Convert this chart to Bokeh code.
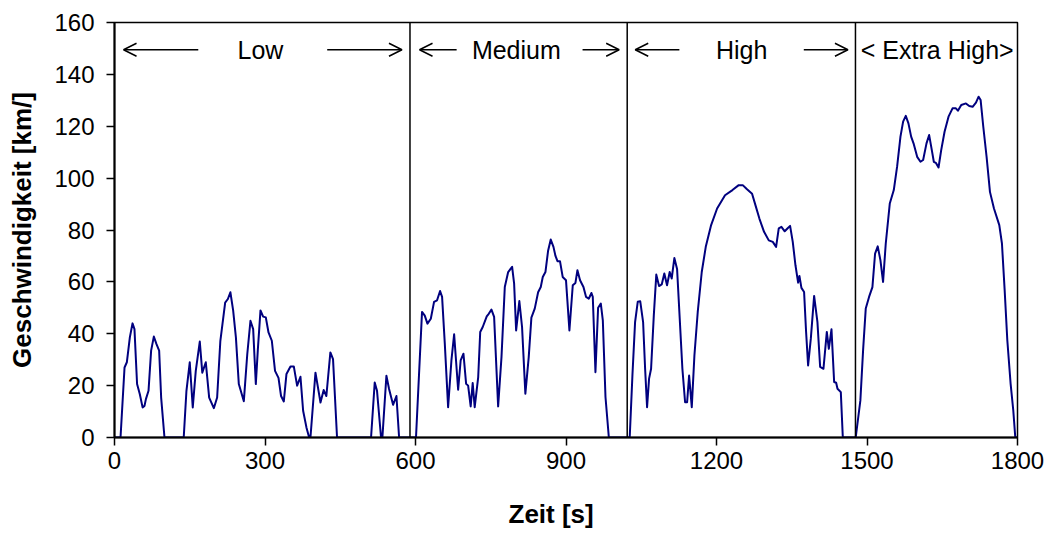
from bokeh.plotting import figure
from bokeh.models import Range1d, FixedTicker, Span, Arrow, OpenHead, Label, Title
from bokeh.embed import file_html
from bokeh.resources import INLINE

# ---- data ----
time_s = [
    0, 12, 20, 24.6, 30.6, 35.9, 39.8, 45, 50.5, 56, 59.8, 62.6, 67.8, 73, 78.4, 83.7, 89, 93, 99.6, 138,
    143.4, 150, 156, 162, 170, 175, 182, 188.7, 198, 204.6, 211, 220.6, 226, 231, 236.5, 242, 247.8, 257.8,
    264.6, 271, 276.4, 281.7, 285.6, 291, 296.3, 301.6, 307, 313.6, 320, 326.9, 332, 337.5, 342.8, 350.8,
    357.4, 364, 370.7, 376, 382.6, 388, 390.6, 400.6, 410.6, 417, 422.3, 430.3, 435.6, 443.6, 511.4, 518.7,
    523.3, 531.3, 534, 542, 547.3, 555.3, 562, 567.3, 601,
    613, 618.5, 623.8, 630.5, 637, 643, 649, 653, 658.4, 665, 671.6, 677, 685, 690, 695.6, 700.9, 704.9,
    710, 714, 718, 725, 729, 734, 742, 746, 751.4, 756.7, 764.7, 771.4, 778, 784.7, 792.6, 796.6, 800.6,
    807, 812.4, 819, 825.7, 831, 837.7, 844.4, 849.7, 853.7, 859, 864.3, 869.6, 875, 879, 883, 888, 893.4,
    900, 906.8, 913.5, 918.8, 922.8, 928, 934.8, 940, 945.4, 950.7, 953.4, 958.7, 964, 969.4, 973.4, 978.7,
    985.4, 1027,
    1032.4, 1037.7, 1043, 1048, 1053.7, 1057.7, 1061.6, 1065.6, 1069.6, 1075, 1080, 1085.5, 1090.8, 1096,
    1101.4, 1106.7, 1110.7, 1116, 1121.4, 1126.7, 1132, 1137.4, 1141.4, 1145.4, 1150.7, 1156, 1162.6,
    1170.6, 1178.6, 1189.3, 1201.2, 1217, 1231.8, 1244.3, 1252.3, 1260.3, 1270.9, 1277.6, 1285.5, 1294.8,
    1304.2, 1312.2, 1318.8, 1324.1, 1329.4, 1336, 1341.4, 1346.7, 1352, 1357.4, 1362.7, 1365.3, 1369.3,
    1374.6, 1378.6, 1382.6, 1388, 1394.6, 1401.2, 1406.6, 1413.2, 1419.9, 1423.9, 1429.2, 1434.5, 1438.5,
    1441.2, 1447.8, 1451.8, 1477.5,
    1486.8, 1492.2, 1497.5, 1504.1, 1510.8, 1516.1, 1521.4, 1526.8, 1532, 1537.4, 1545.4, 1553.4, 1560,
    1566.7, 1572, 1577.3, 1582.6, 1588, 1593.3, 1600, 1606.6, 1611.9, 1618.6, 1623.9, 1629.2, 1633.2,
    1637.2, 1642.6, 1647.9, 1654.6, 1662.5, 1670.5, 1677.2, 1681.2, 1687.9, 1697.2, 1703.8, 1710.5, 1717.2,
    1722.5, 1726.5, 1731.8, 1738.4, 1745.1, 1753.1, 1763.7, 1769, 1774.4, 1779.7, 1786.3, 1791.6, 1795.6, 1800,
]
speed_kmh = [
    0, 0, 27, 29, 38.6, 44, 41.8, 20.6, 16.7, 11.6, 12.2, 14.8, 18, 33.5, 38.9, 36, 33.5, 15.4, 0, 0,
    18, 29, 11.6, 25.7, 37, 25, 29, 15.4, 11.3, 15.4, 37.3, 52, 53.4, 56, 49, 38.6, 20.6, 14,
    32, 45, 41.8, 20.6, 33.5, 49, 46.6, 46.3, 40.5, 37.3, 25.7, 23, 16, 13.9, 24.5, 27.4,
    27.4, 20, 23.4, 10.3, 3.9, 0, 0, 25, 13.5, 18.3, 16, 32.8, 30.2, 0, 0, 21.2,
    18, 0, 0, 23.8, 18.7, 12.6, 16, 0, 0,
    48.4, 47, 43.9, 45.8, 52.3, 52.9, 56.5, 54.2, 36.2, 11.7, 29.7, 39.8, 18.4, 29.7, 32.3, 20.7, 20,
    12, 21, 11.7, 23.3, 40.7, 42.6, 46.7, 47.7, 49.3, 46.5, 12, 31, 58, 63.8, 65.8, 59.3, 41.3,
    52.6, 42.6, 16.9, 31, 46.2, 49.7, 56, 58, 61.9, 63.8, 72, 76.3, 73.5, 70, 68, 68, 61.9,
    60.6, 41.3, 58.7, 59.6, 64.5, 60.6, 58, 54.2, 53.5, 55.7, 54.2, 25.2, 50, 51.6, 45.2, 15.6,
    0, 0,
    23.9, 44.5, 52.3, 52.5, 44.5, 26.5, 11.7, 22.7, 26.5, 47, 62.8, 58.4, 59, 63.2,
    58.7, 63.8, 61.3, 69.2, 65, 45.8, 26.5, 13.6, 13.6, 23.9, 11.7, 31.7, 48.4,
    63.8, 73.5, 81.9, 88.3, 93.4, 95.4, 97.3, 97.3, 95.8, 94, 89.6, 84.4, 79.3,
    76, 75.4, 73.5, 80.6, 81.2, 79.5, 80.6, 81.6, 75.4, 66.4, 59.7, 62.3, 57.7,
    56.1, 40.7, 27.8, 38.1, 54.6, 44.5, 27.2, 26.5, 40.7, 34.2, 41.7, 21.4, 21.1,
    18.8, 17.5, 0, 0,
    14.3, 33.6, 49.7, 54.2, 58, 70.9, 73.7, 68.3, 60, 74.8, 90.2, 95.4, 104.4,
    116, 121.8, 124, 121.1, 116, 113.1, 108.2, 106.3, 107, 113.4, 116.6, 110.8, 106.3,
    105.9, 104.1, 110.8, 117.9, 123.7, 126.9, 126.9, 126, 128.2, 128.8, 127.8, 127.5, 129.1,
    131.4, 130.1, 119.8, 108.2, 94.7, 88.3, 81.9, 74.8, 56.8, 37.5, 20.7, 10.4, 0, 0,
]

phase_bounds = [589, 1022, 1477]
phase_names = ["Low", "Medium", "High", "< Extra High>"]
phase_label_x = [291, 801, 1250, 1640]
label_y = 149.5
# arrows: (start, tip) in seconds
left_arrows = [(167, 18), (682, 608), (1126, 1038)]
right_arrows = [(424, 573), (933, 1006), (1374, 1462)]

x_ticks = [0, 300, 600, 900, 1200, 1500, 1800]
y_ticks = [0, 20, 40, 60, 80, 100, 120, 140, 160]
x_title = "Zeit [s]"
y_title = "Geschwindigkeit [km/]"

FONT = "Liberation Sans"

p = figure(width=1044, height=541, output_backend="svg", toolbar_location=None,
           x_range=Range1d(0, 1800), y_range=Range1d(0, 160),
           min_border_left=114, min_border_right=27, min_border_top=22, min_border_bottom=104)

p.line(time_s, speed_kmh, line_color="#00007f", line_width=2, line_join="round")

for b in phase_bounds:
    p.add_layout(Span(location=b, dimension="height", line_color="black", line_width=1.5))

for name, xc in zip(phase_names, phase_label_x):
    p.add_layout(Label(x=xc, y=label_y, text=name, text_align="center", text_baseline="middle",
                       text_font=FONT, text_font_size="25px", text_color="black"))

for s, e in left_arrows + right_arrows:
    p.add_layout(Arrow(x_start=s, y_start=label_y, x_end=e, y_end=label_y,
                       line_color="black", line_width=1.5,
                       end=OpenHead(size=13, line_color="black", line_width=1.5)))

# spacer panel, then the x-axis title (slightly left of the frame centre as in the reference)
p.add_layout(Title(text=" ", standoff=0, text_font=FONT, text_font_size="22px"), "below")
p.add_layout(Title(text=x_title, align="left", offset=394, standoff=0, vertical_align="top",
                   text_font=FONT, text_font_size="26px", text_font_style="bold",
                   text_color="black"), "below")

p.xgrid.visible = False
p.ygrid.visible = False
p.outline_line_color = "black"
p.outline_line_width = 1.5
p.outline_line_alpha = 1

p.xaxis.ticker = FixedTicker(ticks=x_ticks)
p.yaxis.ticker = FixedTicker(ticks=y_ticks)
for ax in (p.xaxis[0], p.yaxis[0]):
    ax.axis_line_color = "black"
    ax.axis_line_width = 2
    ax.major_tick_line_color = "black"
    ax.major_tick_line_width = 1.5
    ax.major_tick_in = 0
    ax.major_tick_out = 8
    ax.minor_tick_line_color = None
    ax.major_label_text_font = FONT
    ax.major_label_text_font_size = "24px"
    ax.major_label_text_color = "black"
    ax.axis_label_text_font = FONT
    ax.axis_label_text_font_size = "26px"
    ax.axis_label_text_font_style = "bold"
    ax.axis_label_text_color = "black"

p.yaxis.axis_label = y_title
p.xaxis.major_label_standoff = 6
p.yaxis.major_label_standoff = 12
p.yaxis.axis_label_standoff = 14

open("out.html", "w").write(file_html(p, INLINE))
